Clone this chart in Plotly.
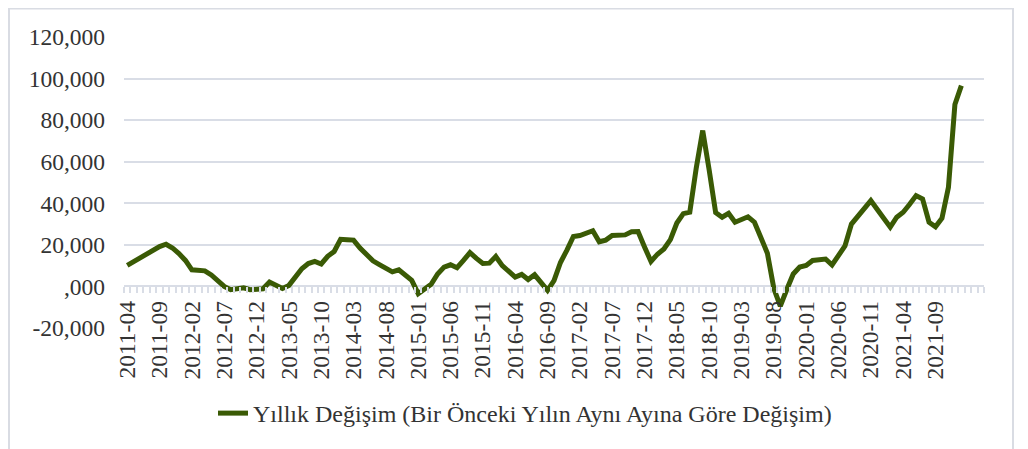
import pandas as pd
import plotly.graph_objects as go

# Categories (monthly, 2011-04 .. 2022-04)
months = [p.strftime("%Y-%m") for p in pd.period_range("2011-04", "2022-04", freq="M")]

# Series values, 2011-04 .. 2022-01
values = [
    10100, 12000, 13800, 15700, 17600, 19200, 20300, 18500, 15800, 12500,
    8000, 8000, 7500, 5500, 2800, 0, -1600, -1000, -700, -1600,
    -1200, -1100, 2100, 400, -1000, 500, 5000, 8500, 11000, 12000,
    10800, 14500, 16800, 22700, 22500, 22300, 18500, 15000, 12300, 10500,
    9000, 7000, 8000, 5500, 2900, -3500, -1000, 1000, 6000, 9300,
    10400, 9000, 12500, 16300, 13500, 11000, 11200, 14400, 10000, 7000,
    4500, 5800, 3300, 5600, 2000, -1900, 2800, 11500, 17500, 24000,
    24500, 25600, 26800, 21500, 22300, 24500, 24500, 24800, 26300, 26400,
    19000, 12000, 15500, 18000, 22500, 30500, 35000, 35700, 57000, 75000,
    56000, 35500, 33300, 35200, 30900, 32500, 33500, 30900, 23000, 16000,
    -1000, -9500, -1500, 6000, 9300, 10100, 12500, 12800, 13200, 10300,
    14500, 19500, 30000, 34000, 37500, 41300, 37000, 32500, 28500, 33300,
    35700, 39500, 43700, 42100, 30900, 28700, 32800, 47700, 87500, 96600,
]
series_name = "Yıllık Değişim (Bir Önceki Yılın Aynı Ayına Göre Değişim)"

# Tick labels
x_tick_labels = months[0:126:5]
y_tick_vals = [-20000, 0, 20000, 40000, 60000, 80000, 100000, 120000]
y_tick_text = ["-20,000", ",000", "20,000", "40,000", "60,000", "80,000", "100,000", "120,000"]

y_plot = values + [None] * (len(months) - len(values))

FONT = "Liberation Serif, Times New Roman, serif"
TXT = "#333333"
GRID = "#D9DDE6"
LINE = "#3A5A05"

# page offset (body margin) and geometry, all in page pixels
OFF = 8
W, H = 1020, 441
PL, PR, PT, PB = 124, 984, 37, 327.6  # plot area in page px
L = PL - OFF
R = W - (PR - OFF)
T = PT - OFF
B = H - (PB - OFF)
pw, ph = W - L - R, H - T - B


def px_x(px):
    return (px - OFF - L) / pw


def px_y(py):
    return (H - B - (py - OFF)) / ph


fig = go.Figure()
fig.add_trace(go.Scatter(
    x=months, y=y_plot, mode="lines", name=series_name,
    line=dict(color=LINE, width=5), xaxis="x", yaxis="y",
))
fig.add_trace(go.Scatter(
    x=months, y=[None] * len(months), mode="lines", showlegend=False,
    hoverinfo="skip", xaxis="x2", yaxis="y",
))

rng = [-0.5, len(months) - 0.5]
fig.update_layout(
    width=W, height=H,
    margin=dict(l=L, r=R, t=T, b=B, autoexpand=False),
    paper_bgcolor="white", plot_bgcolor="white",
    font=dict(family=FONT, size=23, color=TXT),
    xaxis=dict(
        type="category", categoryorder="array", categoryarray=months,
        range=rng, anchor="free", position=20000 / 140000,
        showgrid=False, showline=False, zeroline=False,
        tickmode="linear", tick0=0, dtick=1, tickson="boundaries",
        ticks="outside", ticklen=6, tickwidth=1.5, tickcolor=GRID,
        showticklabels=False,
    ),
    xaxis2=dict(
        type="category", categoryorder="array", categoryarray=months,
        range=rng, overlaying="x", anchor="free", position=px_y(295),
        showgrid=False, showline=False, zeroline=False,
        tickmode="array", tickvals=x_tick_labels, ticktext=x_tick_labels,
        tickangle=-90, ticks="", tickfont=dict(family=FONT, size=23.5, color=TXT),
    ),
    yaxis=dict(
        range=[-20000, 120000], tickmode="array",
        tickvals=y_tick_vals, ticktext=y_tick_text,
        showgrid=True, gridcolor=GRID, gridwidth=1.5,
        zeroline=True, zerolinecolor=GRID, zerolinewidth=1.5,
        showline=False, ticks="", ticklabelstandoff=18,
        tickfont=dict(family=FONT, size=23.5, color=TXT),
    ),
    showlegend=True,
    legend=dict(
        orientation="h", x=px_x(213), xanchor="left",
        y=px_y(413), yanchor="middle",
        font=dict(family=FONT, size=24, color=TXT),
        bgcolor="rgba(0,0,0,0)",
    ),
    shapes=[dict(
        type="rect", xref="paper", yref="paper",
        x0=px_x(9), x1=px_x(1013), y0=px_y(455), y1=px_y(8.5),
        line=dict(color="#D9DCE3", width=2), fillcolor="rgba(0,0,0,0)",
        layer="below",
    )],
)

fig.write_html("out.html")
